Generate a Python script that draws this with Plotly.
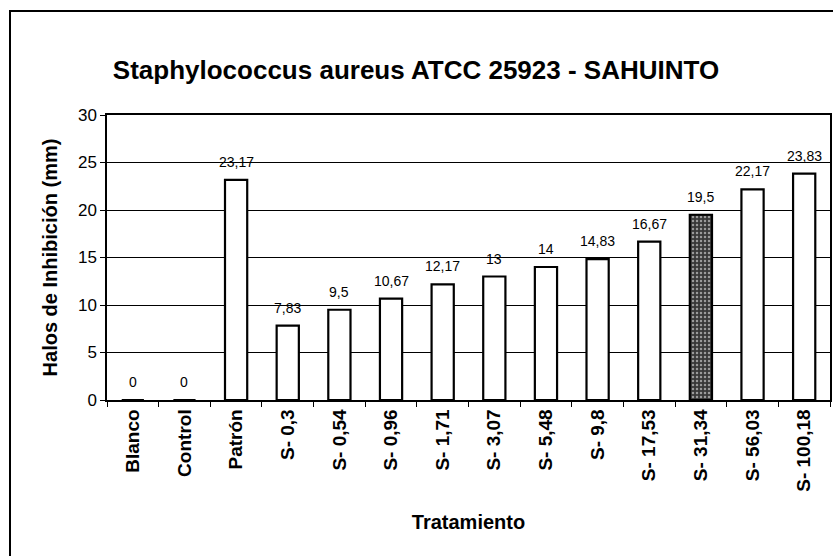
import plotly.graph_objects as go

categories = ["Blanco", "Control", "Patrón", "S- 0,3", "S- 0,54", "S- 0,96", "S- 1,71",
              "S- 3,07", "S- 5,48", "S- 9,8", "S- 17,53", "S- 31,34", "S- 56,03", "S- 100,18"]
values = [0, 0, 23.17, 7.83, 9.5, 10.67, 12.17, 13, 14, 14.83, 16.67, 19.5, 22.17, 23.83]
labels = ["0", "0", "23,17", "7,83", "9,5", "10,67", "12,17", "13", "14", "14,83",
          "16,67", "19,5", "22,17", "23,83"]
y_ticks = [0, 5, 10, 15, 20, 25, 30]
highlight = "S- 31,34"

FONT = "Liberation Sans, Arial, sans-serif"
W, H = 833, 556
# desired page positions of plot area
PL, PR, PT, PB = 107, 830, 115, 400
ml, mt = PL, PT
mr, mb = W - PR, H - PB
pw, ph = W - ml - mr, H - mt - mb

colors = ["#383838" if c == highlight else "white" for c in categories]
shapes_p = ["." if c == highlight else "" for c in categories]

fig = go.Figure()
fig.add_trace(go.Bar(
    x=categories, y=values,
    width=0.43,
    marker=dict(color=colors, line=dict(color="black", width=2.2),
                pattern=dict(shape=shapes_p, fgcolor="#b4b4b4",
                             size=4, solidity=0.3, fillmode="overlay")),
    hoverinfo="skip",
))

# data labels above bars
for c, v, t in zip(categories, values, labels):
    fig.add_annotation(x=c, y=v, text=t, showarrow=False, yanchor="bottom",
                       yshift=8, font=dict(family=FONT, size=14, color="black"))

fig.update_layout(
    width=W, height=H,
    margin=dict(l=ml, r=mr, t=mt, b=mb),
    paper_bgcolor="white", plot_bgcolor="white",
    showlegend=False,
    font=dict(family=FONT, color="black"),
    title=dict(text="<b>Staphylococcus aureus ATCC 25923 - SAHUINTO</b>",
               x=416 / W, xanchor="center", y=1 - 70 / H, yanchor="middle",
               font=dict(family=FONT, size=26, color="black")),
)

fig.update_xaxes(
    type="category",
    automargin=False,
    tickangle=-90,
    tickfont=dict(family=FONT, size=19, color="black", weight="bold"),
    showline=True, linecolor="black", linewidth=1.5, mirror=True,
    ticks="outside", ticklen=5, tickcolor="black", tickson="boundaries",
    title=dict(text="<b>Tratamiento</b>", font=dict(family=FONT, size=20, color="black"),
               standoff=24),
    showgrid=False,
)
fig.update_yaxes(
    automargin=False,
    range=[0, 30],
    tickvals=y_ticks,
    tickfont=dict(family=FONT, size=17, color="black"),
    showline=True, linecolor="black", linewidth=1.5, mirror=True,
    ticks="outside", ticklen=5, tickcolor="black",
    showgrid=True, gridcolor="black", gridwidth=1,
    zeroline=False,
    title=dict(text="<b>Halos de Inhibición (mm)</b>", font=dict(family=FONT, size=20, color="black"),
               standoff=15),
)

# outer chart frame
fig.add_shape(type="rect", xref="paper", yref="paper",
              x0=(10 - PL) / pw, x1=(850 - PL) / pw,
              y0=(PB - 580) / ph, y1=(PB - 11) / ph,
              line=dict(color="black", width=2), fillcolor="rgba(0,0,0,0)", layer="below")

fig.write_html("out.html", config={"displayModeBar": False},
               post_script="document.body.style.margin='0px';document.body.style.overflow='hidden';")
